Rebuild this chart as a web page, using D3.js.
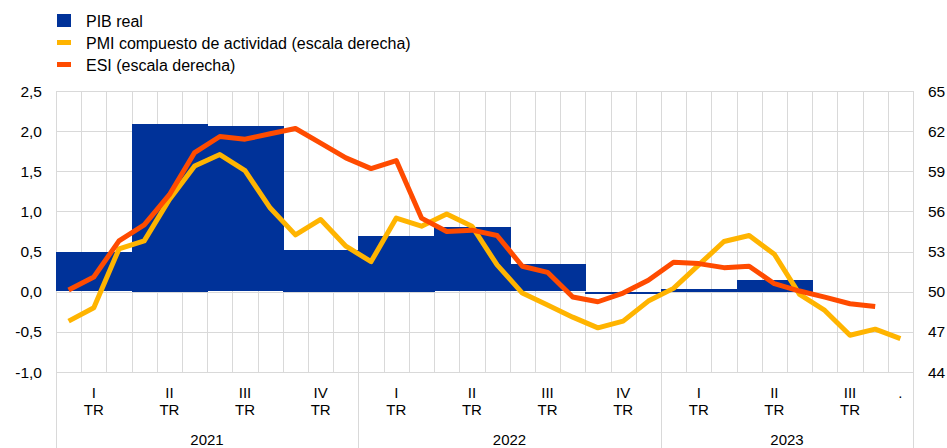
<!DOCTYPE html>
<html>
<head>
<meta charset="utf-8">
<script src="https://cdn.jsdelivr.net/npm/d3@7"></script>
<style>
  html, body { margin: 0; padding: 0; background: #fff; }
  svg { display: block; font-family: "Liberation Sans", Arial, sans-serif; }
</style>
</head>
<body>
<svg id="chart" width="947" height="448"></svg>
<script>
// ---- Data ----
const years = ["2021", "2022", "2023"];
const monthsPerYear = [12, 12, 10]; // Jan 2021 .. Oct 2023
const quarterLabels = ["I", "II", "III", "IV", "I", "II", "III", "IV", "I", "II", "III", "."];
const gdp = [0.49, 2.09, 2.06, 0.52, 0.70, 0.80, 0.34, -0.02, 0.04, 0.15, null, null];
const pmi = [47.8, 48.8, 53.2, 53.8, 56.9, 59.4, 60.25, 59.05, 56.25, 54.25, 55.4, 53.4,
             52.25, 55.5, 54.9, 55.8, 54.9, 52.0, 49.9, 49.0, 48.1, 47.3, 47.8, 49.3,
             50.25, 52.0, 53.75, 54.2, 52.8, 49.8, 48.6, 46.75, 47.2, 46.5];
const esi = [50.13, 51.1, 53.8, 55.0, 57.25, 60.4, 61.6, 61.4, 61.8, 62.2, 61.1, 60.0,
             59.2, 59.8, 55.5, 54.5, 54.6, 54.2, 51.9, 51.45, 49.6, 49.25, 49.9, 50.85,
             52.2, 52.1, 51.8, 51.9, 50.6, 50.05, 49.6, 49.1, 48.9];
const leftTicks = [-1.0, -0.5, 0.0, 0.5, 1.0, 1.5, 2.0, 2.5];
const rightTicks = [44, 47, 50, 53, 56, 59, 62, 65];
const legendItems = [
  { label: "PIB real", color: "#003299", type: "rect" },
  { label: "PMI compuesto de actividad (escala derecha)", color: "#ffb400", type: "line" },
  { label: "ESI (escala derecha)", color: "#ff4b00", type: "line" }
];

// ---- Layout ----
const L = 56, R = 913, T = 91, B = 372, BOTTOM = 448;
const nMonths = d3.sum(monthsPerYear);
const months = d3.range(nMonths);

const svg = d3.select("#chart");
const x = d3.scaleBand().domain(months).range([L, R]).padding(0);
const bw = x.bandwidth();
const yL = d3.scaleLinear().domain([-1, 2.5]).range([B, T]);
const yR = d3.scaleLinear().domain([44, 65]).range([B, T]);
const grid = "#d9d9d9";
const xEdge = m => Math.round(m < nMonths ? x(m) : R);

// horizontal gridlines
svg.append("g").selectAll("line").data(leftTicks).join("line")
  .attr("x1", L).attr("x2", R + 1)
  .attr("y1", d => Math.round(yL(d)) + 0.5).attr("y2", d => Math.round(yL(d)) + 0.5)
  .attr("stroke", grid).attr("stroke-width", 1);

// vertical month gridlines
svg.append("g").selectAll("line").data(months.slice(1)).join("line")
  .attr("x1", d => xEdge(d) + 0.5).attr("x2", d => xEdge(d) + 0.5)
  .attr("y1", T).attr("y2", B)
  .attr("stroke", grid).attr("stroke-width", 1);

// year boundaries
const yearStarts = [0];
monthsPerYear.forEach((m, i) => yearStarts.push(yearStarts[i] + m));
svg.append("g").selectAll("line").data(yearStarts).join("line")
  .attr("x1", d => xEdge(d) + 0.5).attr("x2", d => xEdge(d) + 0.5)
  .attr("y1", T).attr("y2", BOTTOM)
  .attr("stroke", grid).attr("stroke-width", 1);

// GDP bars (quarterly)
const bars = gdp.map((v, q) => ({ v, q })).filter(d => d.v !== null);
svg.append("g").attr("shape-rendering", "crispEdges").selectAll("rect").data(bars).join("rect")
  .attr("x", d => xEdge(d.q * 3))
  .attr("width", d => xEdge(d.q * 3 + 3) - xEdge(d.q * 3) + 1)
  .attr("y", d => Math.round(Math.min(yL(d.v), yL(0))))
  .attr("height", d => Math.max(1, Math.round(Math.abs(yL(d.v) - yL(0)))))
  .attr("fill", "#003299");

// lines
const lineR = d3.line().x((d, i) => x(i) + bw / 2).y(d => yR(d));
svg.append("path").datum(pmi).attr("d", lineR)
  .attr("fill", "none").attr("stroke", "#ffb400").attr("stroke-width", 5)
  .attr("stroke-linejoin", "round");
svg.append("path").datum(esi).attr("d", lineR)
  .attr("fill", "none").attr("stroke", "#ff4b00").attr("stroke-width", 5)
  .attr("stroke-linejoin", "round");

// left axis labels
const fmt = d => d.toFixed(1).replace(".", ",");
svg.append("g").selectAll("text").data(leftTicks).join("text")
  .attr("x", 42).attr("y", d => yL(d) + 5.5)
  .attr("text-anchor", "end").attr("font-size", 15.5).attr("fill", "#000")
  .text(fmt);

// right axis labels
svg.append("g").selectAll("text").data(rightTicks).join("text")
  .attr("x", 928).attr("y", d => yR(d) + 5.5)
  .attr("text-anchor", "start").attr("font-size", 15.5).attr("fill", "#000")
  .text(d => d);

// quarter labels
const qInfo = quarterLabels.map((lab, q) => {
  const ms = [q * 3, q * 3 + 1, q * 3 + 2].filter(m => m < nMonths);
  const cx = d3.mean(ms, m => x(m) + bw / 2);
  return { lab, cx };
});
const qg = svg.append("g").attr("font-size", 15).attr("fill", "#000").attr("text-anchor", "middle");
qg.selectAll("text.q").data(qInfo).join("text").attr("class", "q")
  .attr("x", d => d.cx).attr("y", 398).text(d => d.lab);
qg.selectAll("text.tr").data(qInfo.filter(d => d.lab !== ".")).join("text").attr("class", "tr")
  .attr("x", d => d.cx).attr("y", 415).text("TR");

// year labels
svg.append("g").selectAll("text").data(years).join("text")
  .attr("x", (d, i) => (xEdge(yearStarts[i]) + xEdge(yearStarts[i + 1])) / 2)
  .attr("y", 445).attr("text-anchor", "middle").attr("font-size", 15).attr("fill", "#000")
  .text(d => d);

// legend
const lg = svg.append("g");
legendItems.forEach((d, i) => {
  const cy = 20.5 + i * 22;
  if (d.type === "rect") {
    lg.append("rect").attr("x", 57).attr("y", cy - 6.5).attr("width", 14).attr("height", 13).attr("fill", d.color);
  } else {
    lg.append("rect").attr("x", 57).attr("y", cy - 2.5).attr("width", 14).attr("height", 5).attr("fill", d.color);
  }
  lg.append("text").attr("x", 86).attr("y", cy + 6).attr("font-size", 16).attr("fill", "#000").text(d.label);
});
</script>
</body>
</html>
